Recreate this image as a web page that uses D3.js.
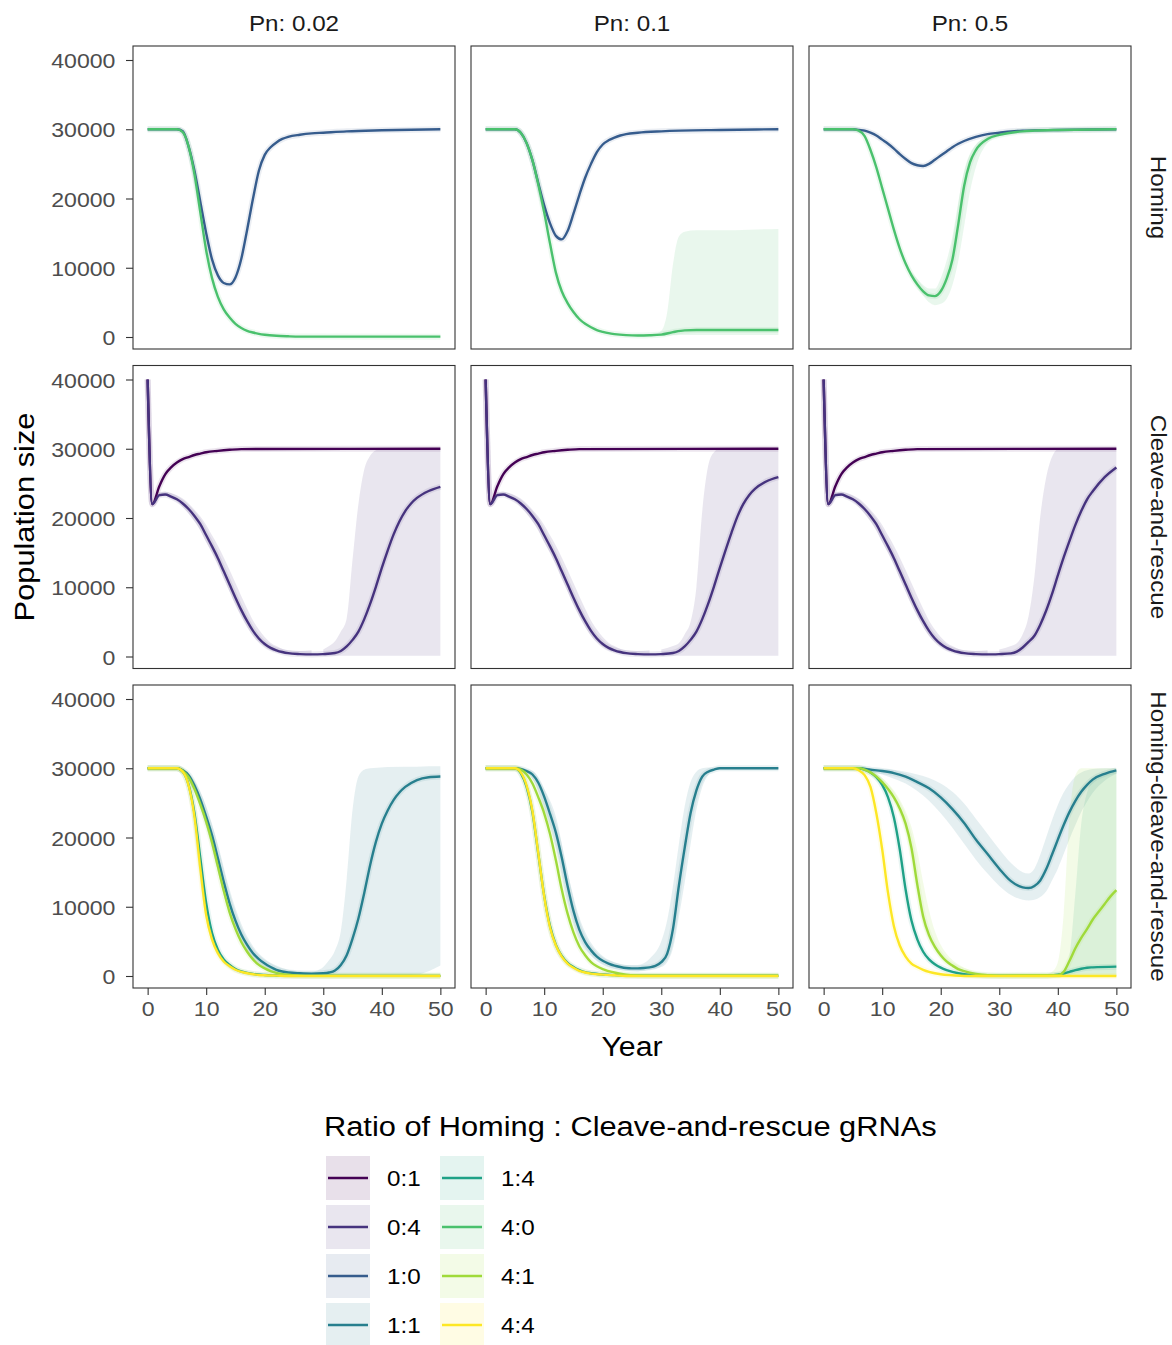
<!DOCTYPE html>
<html>
<head>
<meta charset="utf-8">
<script src="https://cdn.jsdelivr.net/npm/d3@7"></script>
<style>
  body { margin: 0; background: #fff; }
  text { font-family: "Liberation Sans", Arial, sans-serif; }
</style>
</head>
<body>
<script>
// facet levels, legend levels and ticks
const pnLevels = ["Pn: 0.02", "Pn: 0.1", "Pn: 0.5"];
const driveTypes = ["Homing", "Cleave-and-rescue", "Homing-cleave-and-rescue"];
const ratioLevels = ["0:1", "0:4", "1:0", "1:1", "1:4", "4:0", "4:1", "4:4"];
const ratioColors = ["#440154", "#46337E", "#365C8D", "#277F8E", "#1FA187", "#4AC16D", "#9FDA3A", "#FDE725"];
const xTicks = [0, 10, 20, 30, 40, 50];
const yTicks = [0, 10000, 20000, 30000, 40000];

// ---- Homing row: [year, mean population]
const hom002_10 = [[0,30000],[5,30000],[6,29700],[7,27500],[8,24000],[9,19500],[10,15000],[11,11200],[12,8900],[13,7800],[14,7600],[15,8600],[16,11300],[17,15500],[18,20000],[19,24000],[20,26300],[21,27400],[22,28100],[23,28600],[24,28900],[26,29200],[28,29400],[30,29500],[34,29700],[40,29850],[50,30000]];
const hom002_40 = [[0,30000],[5,30000],[6,29600],[7,27500],[8,23500],[9,18000],[10,12500],[11,8500],[12,5800],[13,4000],[14,2800],[15,1900],[16,1300],[17,900],[18,650],[19,450],[20,320],[22,170],[24,100],[26,60],[50,50]];
const hom01_10 = [[0,30000],[5,30000],[6,29500],[7,28000],[8,25500],[9,22200],[10,19000],[11,16400],[12,14600],[13,14100],[14,15300],[15,17800],[16,20500],[17,23000],[18,25000],[19,26700],[20,27800],[21,28400],[22,28800],[23,29100],[24,29300],[26,29500],[30,29700],[40,29900],[50,30000]];
const hom01_40 = [[0,30000],[5,30000],[6,29500],[7,28000],[8,25500],[9,22000],[10,18000],[11,13500],[12,9300],[13,6600],[14,4900],[15,3600],[16,2600],[17,1900],[18,1400],[19,1000],[20,750],[21,550],[22,420],[24,270],[26,220],[28,250],[30,350],[32,700],[34,950],[36,1000],[50,1000]];
const hom01_40Band = [[26,150,350],[28,150,400],[29,150,500],[30,150,900],[31,200,3500],[32,250,10500],[33,300,14500],[34,300,15200],[36,300,15400],[40,300,15400],[45,300,15500],[50,300,15600]];
const hom05_10 = [[0,30000],[5,30000],[6,29900],[7,29800],[8,29500],[9,29100],[10,28500],[11,27900],[12,27200],[13,26400],[14,25700],[15,25100],[16,24800],[17,24700],[18,25000],[19,25600],[20,26200],[21,26800],[22,27400],[23,27900],[24,28300],[26,28900],[28,29300],[30,29500],[32,29700],[34,29800],[40,29900],[50,30000]];
const hom05_40 = [[0,30000],[5,30000],[6,29800],[7,29000],[8,27000],[9,24500],[10,21500],[11,18500],[12,15500],[13,12800],[14,10600],[15,8900],[16,7600],[17,6600],[18,6000],[19,5900],[20,6600],[21,8400],[22,11200],[23,16300],[24,21800],[25,25200],[26,27000],[28,28600],[30,29200],[32,29500],[34,29700],[36,29800],[40,29900],[50,30000]];
const hom05_40Band = [[15,8600,9400],[16,7100,8400],[17,6000,7500],[18,5000,7000],[19,4600,7000],[20,4800,8500],[21,5500,11000],[22,7500,14500],[23,11000,19500],[24,16000,24000],[25,21000,26500],[26,24500,27800],[28,28000,29000],[30,29000,29400]];

// ---- Cleave-and-rescue row
const car_01 = [[0,40000],[0.8,22000],[2,24600],[3,26300],[4,27300],[5,28000],[6,28500],[7,28800],[8,29100],[9,29300],[10,29500],[12,29700],[14,29850],[16,29950],[50,30000]];
const car002_04 = [[0,40000],[0.8,22000],[2,23300],[3,23400],[4,23100],[5,22700],[6,22100],[7,21300],[8,20300],[9,19100],[10,17500],[11,15900],[12,14200],[13,12300],[14,10400],[15,8500],[16,6700],[17,5100],[18,3700],[19,2600],[20,1800],[21,1250],[22,900],[23,650],[24,480],[26,350],[28,300],[30,350],[32,500],[33,800],[34,1450],[35,2400],[36,3600],[37,5400],[38,7600],[39,10100],[40,12800],[41,15300],[42,17600],[43,19500],[44,21000],[45,22100],[46,22900],[48,23900],[50,24500]];
const car01_04 = [[0,40000],[0.8,22000],[2,23300],[3,23400],[4,23100],[5,22700],[6,22100],[7,21300],[8,20300],[9,19100],[10,17500],[11,15900],[12,14200],[13,12300],[14,10400],[15,8500],[16,6700],[17,5100],[18,3700],[19,2600],[20,1800],[21,1250],[22,900],[23,650],[24,480],[26,350],[28,300],[30,350],[32,500],[33,800],[34,1450],[35,2400],[36,3600],[37,5400],[38,7600],[39,10100],[40,12800],[41,15400],[42,17900],[43,20200],[44,22000],[45,23300],[46,24200],[48,25300],[50,25900]];
const car05_04 = [[0,40000],[0.8,22000],[2,23300],[3,23400],[4,23100],[5,22700],[6,22100],[7,21300],[8,20300],[9,19100],[10,17500],[11,15900],[12,14200],[13,12300],[14,10400],[15,8500],[16,6700],[17,5100],[18,3700],[19,2600],[20,1800],[21,1250],[22,900],[23,650],[24,480],[26,350],[28,300],[30,350],[32,450],[33,700],[34,1300],[35,2100],[36,3000],[37,4600],[38,6600],[39,9000],[40,11700],[41,14300],[42,16700],[43,19000],[44,21000],[45,22700],[46,23900],[48,25900],[50,27300]];
// [year, lower, upper]
const carFallBand = [[0,40000,40000],[0.8,21800,22300],[2,23000,23600],[3,23200,23800],[4,22800,23600],[5,22400,23300],[6,21600,22800],[7,20600,22100],[8,19500,21200],[9,18200,20200],[10,16500,19000],[11,15000,17500],[12,13300,16000],[13,11300,14300],[14,9400,12500],[15,7500,10600],[16,5800,8700],[17,4300,6900],[18,3000,5200],[19,2100,3900],[20,1400,2800],[21,900,2000],[22,600,1500],[23,400,1100],[24,300,900],[26,200,800],[28,150,900]];
const car002_04Rise = [[30,100,1000],[31,100,1500],[32,100,2200],[33,100,3600],[34,100,5500],[35,100,14000],[36,100,22000],[37,100,27000],[38,100,29000],[39,100,29800],[40,100,30000],[50,100,30000]];
const car01_04Rise = [[30,100,1000],[32,100,1500],[33,100,1900],[34,100,3200],[35,100,5000],[36,100,10000],[37,100,21000],[38,100,27500],[39,100,29500],[40,100,30000],[50,100,30000]];
const car05_04Rise = [[30,100,1000],[32,100,1500],[33,100,1900],[34,100,3200],[35,100,5800],[36,100,11500],[37,100,20200],[38,100,25800],[39,100,28800],[40,100,29900],[50,100,30000]];

// ---- Homing-cleave-and-rescue row
const hcr002_11 = [[0,30000],[5,30000],[6,29700],[7,29000],[8,27500],[9,25500],[10,23000],[11,20300],[12,17000],[13,13600],[14,10500],[15,8000],[16,6000],[17,4500],[18,3300],[19,2450],[20,1800],[21,1300],[22,900],[23,650],[24,500],[26,400],[28,350],[30,400],[31,500],[32,800],[33,1600],[34,3000],[35,5400],[36,8300],[37,12000],[38,16000],[39,19400],[40,22000],[41,23900],[42,25400],[43,26500],[44,27300],[46,28300],[48,28700],[50,28800]];
const hcr002_11Band = [[0,29900,30100],[5,29900,30100],[6,29500,29900],[8,26800,28200],[10,21500,24500],[12,15000,19000],[14,8800,12500],[16,4800,7500],[18,2500,4300],[20,1200,2500],[22,600,1500],[24,300,900],[26,150,700],[28,50,650],[29,50,800],[30,50,1300],[31,50,2300],[32,50,3700],[33,50,6500],[34,50,14000],[35,50,24000],[36,50,28800],[37,50,29800],[38,50,30000],[44,100,30200],[46,200,30200],[48,700,30300],[50,1500,30300]];
const hcr002_14 = [[0,30000],[5,30000],[6,29500],[7,27600],[8,23500],[9,17000],[10,10500],[11,6200],[12,3800],[13,2400],[14,1600],[15,1000],[16,650],[17,450],[18,300],[20,150],[22,80],[24,30],[50,20]];
const hcr002_41 = [[0,30000],[5,30000],[6,29600],[7,28700],[8,27000],[9,24800],[10,22300],[11,19300],[12,15800],[13,12300],[14,9200],[15,6800],[16,4900],[17,3500],[18,2400],[19,1600],[20,1100],[21,700],[22,450],[24,180],[26,60],[28,20],[50,20]];
const hcr002_44 = [[0,30000],[5,30000],[6,29500],[7,27500],[8,23000],[9,15500],[10,8800],[11,5300],[12,3300],[13,2100],[14,1400],[15,900],[16,600],[17,400],[18,250],[19,150],[20,100],[22,50],[24,0],[50,0]];

const hcr01_11 = [[0,30000],[5,30000],[6,29900],[7,29600],[8,29100],[9,27900],[10,25900],[11,23400],[12,20700],[13,17100],[14,13000],[15,9400],[16,6700],[17,4900],[18,3700],[19,2800],[20,2200],[21,1800],[22,1500],[23,1300],[24,1150],[25,1100],[26,1100],[27,1150],[28,1250],[29,1450],[30,2000],[31,3200],[32,6800],[33,13000],[34,18500],[35,23500],[36,26800],[37,28800],[38,29500],[39,29800],[40,30000],[50,30000]];
const hcr01_11Band = [[0,29900,30100],[6,29700,30000],[8,28500,29600],[10,24000,27000],[12,18500,23000],[14,10500,15000],[16,5200,8500],[18,2900,4800],[20,1600,2900],[22,1000,2000],[24,800,1600],[26,700,1600],[28,900,2500],[30,1300,5000],[31,2000,8000],[32,4000,13000],[33,8500,19000],[34,13500,24500],[35,19000,28000],[36,24000,29500],[37,27300,30000],[38,29000,30100],[39,29700,30100],[40,29900,30100],[50,29900,30100]];
const hcr01_14 = [[0,30000],[5,30000],[6,29300],[7,27300],[8,23600],[9,17600],[10,11600],[11,7200],[12,4500],[13,2900],[14,1900],[15,1300],[16,850],[17,550],[18,400],[20,220],[22,120],[24,50],[50,30]];
const hcr01_41 = [[0,30000],[5,30000],[6,29800],[7,29100],[8,27800],[9,25800],[10,23500],[11,20500],[12,16700],[13,12500],[14,9000],[15,6300],[16,4300],[17,3000],[18,2000],[19,1400],[20,1000],[22,500],[24,200],[26,80],[28,30],[50,30]];
const hcr01_44 = [[0,30000],[5,30000],[6,29400],[7,27500],[8,23800],[9,17700],[10,11500],[11,7000],[12,4400],[13,2800],[14,1800],[15,1200],[16,750],[17,500],[18,350],[20,200],[22,100],[24,0],[50,0]];

const hcr05_11 = [[0,30000],[6,30000],[8,29800],[10,29600],[12,29300],[14,28800],[16,28000],[18,27100],[20,25800],[22,24100],[24,22100],[26,19700],[28,17600],[30,15500],[32,13700],[34,12800],[35,12700],[36,13000],[37,13800],[38,15400],[39,17500],[40,19700],[41,21800],[42,23700],[43,25300],[44,26600],[45,27600],[46,28400],[48,29200],[50,29700]];
const hcr05_11Band = [[0,29900,30100],[6,29900,30100],[8,29500,30000],[10,29100,29900],[12,28500,29800],[14,27800,29500],[16,26700,29100],[18,25300,28600],[20,23500,27800],[22,21400,26600],[24,19100,24900],[26,16800,22700],[28,14800,20500],[30,13000,18300],[32,11700,16300],[34,11000,15000],[35,10900,14800],[36,11000,15500],[37,11400,17500],[38,12200,20000],[39,13800,22500],[40,15500,24700],[41,17600,26500],[42,19800,27800],[43,21800,28800],[44,23700,29400],[45,25200,29700],[46,26500,29900],[48,28200,30000],[50,29200,30000]];
const hcr05_14 = [[0,30000],[6,30000],[7,29800],[8,29400],[9,28700],[10,27600],[11,25800],[12,22900],[13,18300],[14,12500],[15,8000],[16,5300],[17,3500],[18,2400],[19,1700],[20,1200],[21,850],[22,600],[24,250],[26,100],[28,50],[38,50],[40,200],[41,350],[42,600],[43,850],[44,1050],[45,1200],[46,1250],[50,1350]];
const hcr05_14Band = [[38,0,100],[40,0,300],[41,0,700],[42,0,3000],[43,0,12000],[44,0,22000],[45,0,26500],[46,0,28300],[48,0,29300],[50,0,29500]];
const hcr05_41 = [[0,30000],[6,30000],[7,29800],[8,29400],[9,28800],[10,28000],[11,27000],[12,25800],[13,24200],[14,22000],[15,18500],[16,13200],[17,8600],[18,5900],[19,4200],[20,3000],[21,2100],[22,1500],[23,1000],[24,700],[26,300],[28,100],[30,50],[40,100],[41,600],[42,2200],[43,4000],[44,5500],[45,6800],[46,8200],[47,9300],[48,10400],[49,11500],[50,12400]];
const hcr05_41Band = [[8,29300,29600],[10,27800,28600],[12,25200,26800],[13,23400,25500],[14,21000,23800],[15,17000,21500],[16,11800,18000],[17,7500,13500],[18,5300,9500],[19,3800,6500],[20,2600,4500],[21,1800,3200],[22,1200,2300],[24,500,1200],[26,200,600],[28,50,300],[30,0,150],[36,0,100],[38,0,250],[39,0,600],[40,0,2000],[41,0,9000],[42,0,23000],[43,0,29000],[44,0,30000],[50,0,30000]];
const hcr05_44 = [[0,30000],[5,30000],[6,29700],[7,29000],[8,27300],[9,23500],[10,18300],[11,12000],[12,7200],[13,4400],[14,2800],[15,1800],[16,1300],[17,900],[18,600],[19,400],[20,250],[22,100],[24,0],[50,0]];

const runs = [
  { row: 0, col: 0, ratio: "1:0", line: hom002_10 },
  { row: 0, col: 0, ratio: "4:0", line: hom002_40 },
  { row: 0, col: 1, ratio: "1:0", line: hom01_10 },
  { row: 0, col: 1, ratio: "4:0", line: hom01_40, bands: [hom01_40Band] },
  { row: 0, col: 2, ratio: "1:0", line: hom05_10 },
  { row: 0, col: 2, ratio: "4:0", line: hom05_40, bands: [hom05_40Band] },
  { row: 1, col: 0, ratio: "0:1", line: car_01 },
  { row: 1, col: 0, ratio: "0:4", line: car002_04, bands: [carFallBand, car002_04Rise] },
  { row: 1, col: 1, ratio: "0:1", line: car_01 },
  { row: 1, col: 1, ratio: "0:4", line: car01_04, bands: [carFallBand, car01_04Rise] },
  { row: 1, col: 2, ratio: "0:1", line: car_01 },
  { row: 1, col: 2, ratio: "0:4", line: car05_04, bands: [carFallBand, car05_04Rise] },
  { row: 2, col: 0, ratio: "1:1", line: hcr002_11, bands: [hcr002_11Band] },
  { row: 2, col: 0, ratio: "1:4", line: hcr002_14 },
  { row: 2, col: 0, ratio: "4:1", line: hcr002_41 },
  { row: 2, col: 0, ratio: "4:4", line: hcr002_44 },
  { row: 2, col: 1, ratio: "1:1", line: hcr01_11, bands: [hcr01_11Band] },
  { row: 2, col: 1, ratio: "1:4", line: hcr01_14 },
  { row: 2, col: 1, ratio: "4:1", line: hcr01_41 },
  { row: 2, col: 1, ratio: "4:4", line: hcr01_44 },
  { row: 2, col: 2, ratio: "1:1", line: hcr05_11, bands: [hcr05_11Band] },
  { row: 2, col: 2, ratio: "1:4", line: hcr05_14, bands: [hcr05_14Band] },
  { row: 2, col: 2, ratio: "4:1", line: hcr05_41, bands: [hcr05_41Band] },
  { row: 2, col: 2, ratio: "4:4", line: hcr05_44 }
];

// layout
const width = 1172, height = 1345;
const panelLeft = [133, 471, 809];
const panelTop = [46, 365.5, 685];
const panelW = 322, panelH = 303;
const stretch = 1.1; // text in the reference runs a bit wide

const color = d3.scaleOrdinal().domain(ratioLevels).range(ratioColors);
const x = d3.scaleLinear().domain([-2.5, 52.5]).range([0, panelW]);
const y = d3.scaleLinear().domain([-1733, 42022]).range([panelH, 0]);

const line = d3.line().x(d => x(d[0])).y(d => y(d[1])).curve(d3.curveMonotoneX);
const area = d3.area().x(d => x(d[0])).y0(d => y(d[1])).y1(d => y(d[2])).curve(d3.curveMonotoneX);

const svg = d3.select("body").append("svg")
  .attr("width", width).attr("height", height)
  .style("display", "block");
svg.append("rect").attr("width", width).attr("height", height).attr("fill", "#fff");

for (let r = 0; r < 3; r++) {
  for (let c = 0; c < 3; c++) {
    const g = svg.append("g").attr("transform", `translate(${panelLeft[c]},${panelTop[r]})`);
    const here = runs.filter(d => d.row === r && d.col === c);

    // ribbons first
    here.forEach(s => {
      (s.bands || []).forEach(b => {
        g.append("path").attr("d", area(b))
          .attr("fill", color(s.ratio)).attr("fill-opacity", 0.12);
      });
    });
    // faint halo for the thin ribbons
    here.forEach(s => {
      g.append("path").attr("d", line(s.line))
        .attr("fill", "none").attr("stroke", color(s.ratio))
        .attr("stroke-opacity", 0.1).attr("stroke-width", 6);
    });
    here.forEach(s => {
      g.append("path").attr("d", line(s.line))
        .attr("fill", "none").attr("stroke", color(s.ratio))
        .attr("stroke-width", 2.4).attr("stroke-linejoin", "round");
    });

    g.append("rect").attr("width", panelW).attr("height", panelH)
      .attr("fill", "none").attr("stroke", "#333").attr("stroke-width", 1.1);

    if (c === 0) {
      const ax = g.append("g").call(d3.axisLeft(y).tickValues(yTicks).tickSize(7).tickPadding(9).tickFormat(d3.format("d")));
      ax.select(".domain").remove();
      ax.selectAll("line").attr("stroke", "#333").attr("stroke-width", 1.1);
      ax.selectAll("text").attr("fill", "#4D4D4D").style("font-size", "21px")
        .attr("dy", "0.36em")
        .attr("transform", `scale(${stretch},1)`);
    }
    if (r === 2) {
      const ax = g.append("g").attr("transform", `translate(0,${panelH})`)
        .call(d3.axisBottom(x).tickValues(xTicks).tickSize(7).tickPadding(6));
      ax.select(".domain").remove();
      ax.selectAll("line").attr("stroke", "#333").attr("stroke-width", 1.1);
      ax.selectAll("text").attr("fill", "#4D4D4D").style("font-size", "21px")
        .attr("dy", "0.71em")
        .attr("transform", `scale(${stretch},1)`);
    }
  }
}

// strip labels
pnLevels.forEach((p, c) => {
  svg.append("text")
    .attr("transform", `translate(${panelLeft[c] + panelW / 2},30.5) scale(${stretch},1)`)
    .attr("text-anchor", "middle").attr("fill", "#1A1A1A")
    .style("font-size", "22px").text(p);
});
driveTypes.forEach((d, r) => {
  svg.append("text")
    .attr("transform", `translate(1150.5,${panelTop[r] + panelH / 2}) rotate(90) scale(${stretch},1)`)
    .attr("text-anchor", "middle").attr("fill", "#1A1A1A")
    .style("font-size", "22px").text(d);
});

// axis titles
svg.append("text")
  .attr("transform", `translate(632,1055.5) scale(${stretch},1)`)
  .attr("text-anchor", "middle").attr("fill", "#000")
  .style("font-size", "27.5px").text("Year");
svg.append("text")
  .attr("transform", `translate(33.5,517) rotate(-90) scale(${stretch},1)`)
  .attr("text-anchor", "middle").attr("fill", "#000")
  .style("font-size", "28px").text("Population size");

// legend
const legend = svg.append("g");
legend.append("text")
  .attr("transform", `translate(324,1135.5) scale(${stretch},1)`)
  .attr("fill", "#000").style("font-size", "28px")
  .text("Ratio of Homing : Cleave-and-rescue gRNAs");

const keyX = [326, 440], keyTop = 1156, keyStep = 49, keySize = 44;
ratioLevels.forEach((lvl, i) => {
  const col = Math.floor(i / 4), row = i % 4;
  const kx = keyX[col], ky = keyTop + row * keyStep;
  legend.append("rect").attr("x", kx).attr("y", ky)
    .attr("width", keySize).attr("height", keySize)
    .attr("fill", color(lvl)).attr("fill-opacity", 0.12);
  legend.append("line")
    .attr("x1", kx + 2).attr("x2", kx + keySize - 2)
    .attr("y1", ky + keySize / 2).attr("y2", ky + keySize / 2)
    .attr("stroke", color(lvl)).attr("stroke-width", 2.5);
  legend.append("text")
    .attr("transform", `translate(${kx + 61},${ky + keySize / 2 + 8}) scale(${stretch},1)`)
    .attr("fill", "#000").style("font-size", "22px").text(lvl);
});
</script>
</body>
</html>
